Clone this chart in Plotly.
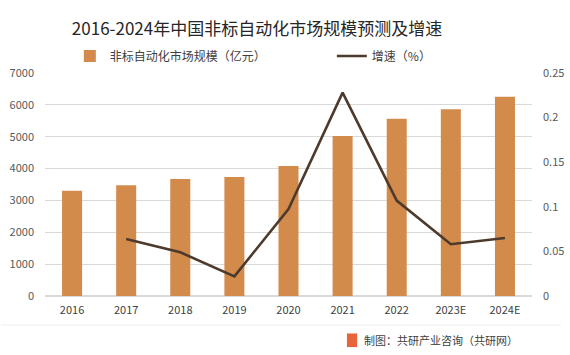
import plotly.graph_objects as go

years = ["2016", "2017", "2018", "2019", "2020", "2021", "2022", "2023E", "2024E"]
market_size = [3300, 3480, 3670, 3735, 4080, 5020, 5565, 5860, 6256]
growth = [None, 0.064, 0.049, 0.022, 0.0975, 0.228, 0.107, 0.058, 0.065]

title_text = "2016-2024年中国非标自动化市场规模预测及增速"
bar_name = "非标自动化市场规模（亿元）"
line_name = "增速（%）"
source_text = "制图：共研产业咨询（共研网）"

FONT = "Noto Sans CJK SC, Noto Sans, sans-serif"
BAR_COLOR = "#D38B4C"
LINE_COLOR = "#4E3A2C"

fig = go.Figure()
fig.add_trace(go.Bar(x=years, y=market_size, name=bar_name, marker_color=BAR_COLOR,
                     marker_line_width=0, yaxis="y", legend="legend"))
fig.add_trace(go.Scatter(x=years, y=growth, name=line_name, mode="lines",
                         line=dict(color=LINE_COLOR, width=2.6), yaxis="y2", legend="legend2"))

leg_common = dict(orientation="h", y=1.076, xanchor="left", yanchor="middle",
                  font=dict(size=12, color="#404040"), bgcolor="rgba(0,0,0,0)", itemwidth=30)

fig.update_layout(
    width=570, height=355,
    margin=dict(l=45, r=38, t=73, b=59, autoexpand=False),
    paper_bgcolor="white", plot_bgcolor="white",
    font=dict(family=FONT, size=11, color="#595959"),
    title=dict(text=title_text, x=0.451, xanchor="center", y=0.918, yanchor="middle",
               font=dict(size=17, color="#262626", family=FONT)),
    bargap=0.63,
    showlegend=True,
    legend=dict(x=0.051, **leg_common),
    legend2=dict(x=0.589, **leg_common),
    xaxis=dict(showgrid=False, showline=False, ticks="", tickfont=dict(size=11, color="#404040"),
               ticklabelstandoff=6),
    yaxis=dict(range=[0, 7000], dtick=1000, showgrid=True, gridcolor="#D9D9D9", gridwidth=1,
               zeroline=True, zerolinecolor="#D9D9D9", showline=False, ticks="",
               ticklabelstandoff=10, tickfont=dict(size=11, color="#595959")),
    yaxis2=dict(range=[0, 0.25], dtick=0.05, overlaying="y", side="right", showgrid=False,
                zeroline=False, showline=False, ticks="", ticklabelstandoff=10,
                tickfont=dict(size=11, color="#595959")),
)

fig.add_shape(type="line", xref="paper", yref="paper", x0=-0.09, x1=1.06, y0=-0.13, y1=-0.13,
              line=dict(color="#EDEDED", width=1))
fig.add_shape(type="rect", xref="paper", yref="paper", x0=0.62, x1=0.641, y0=-0.229, y1=-0.168,
              fillcolor="#E8643A", line_width=0)
fig.add_annotation(text=source_text, xref="paper", yref="paper", x=0.651, y=-0.198,
                   xanchor="left", yanchor="middle", showarrow=False,
                   font=dict(size=11, color="#404040", family=FONT))

fig.write_html("out.html", config={"displayModeBar": False},
               post_script="document.body.style.margin='0';")
